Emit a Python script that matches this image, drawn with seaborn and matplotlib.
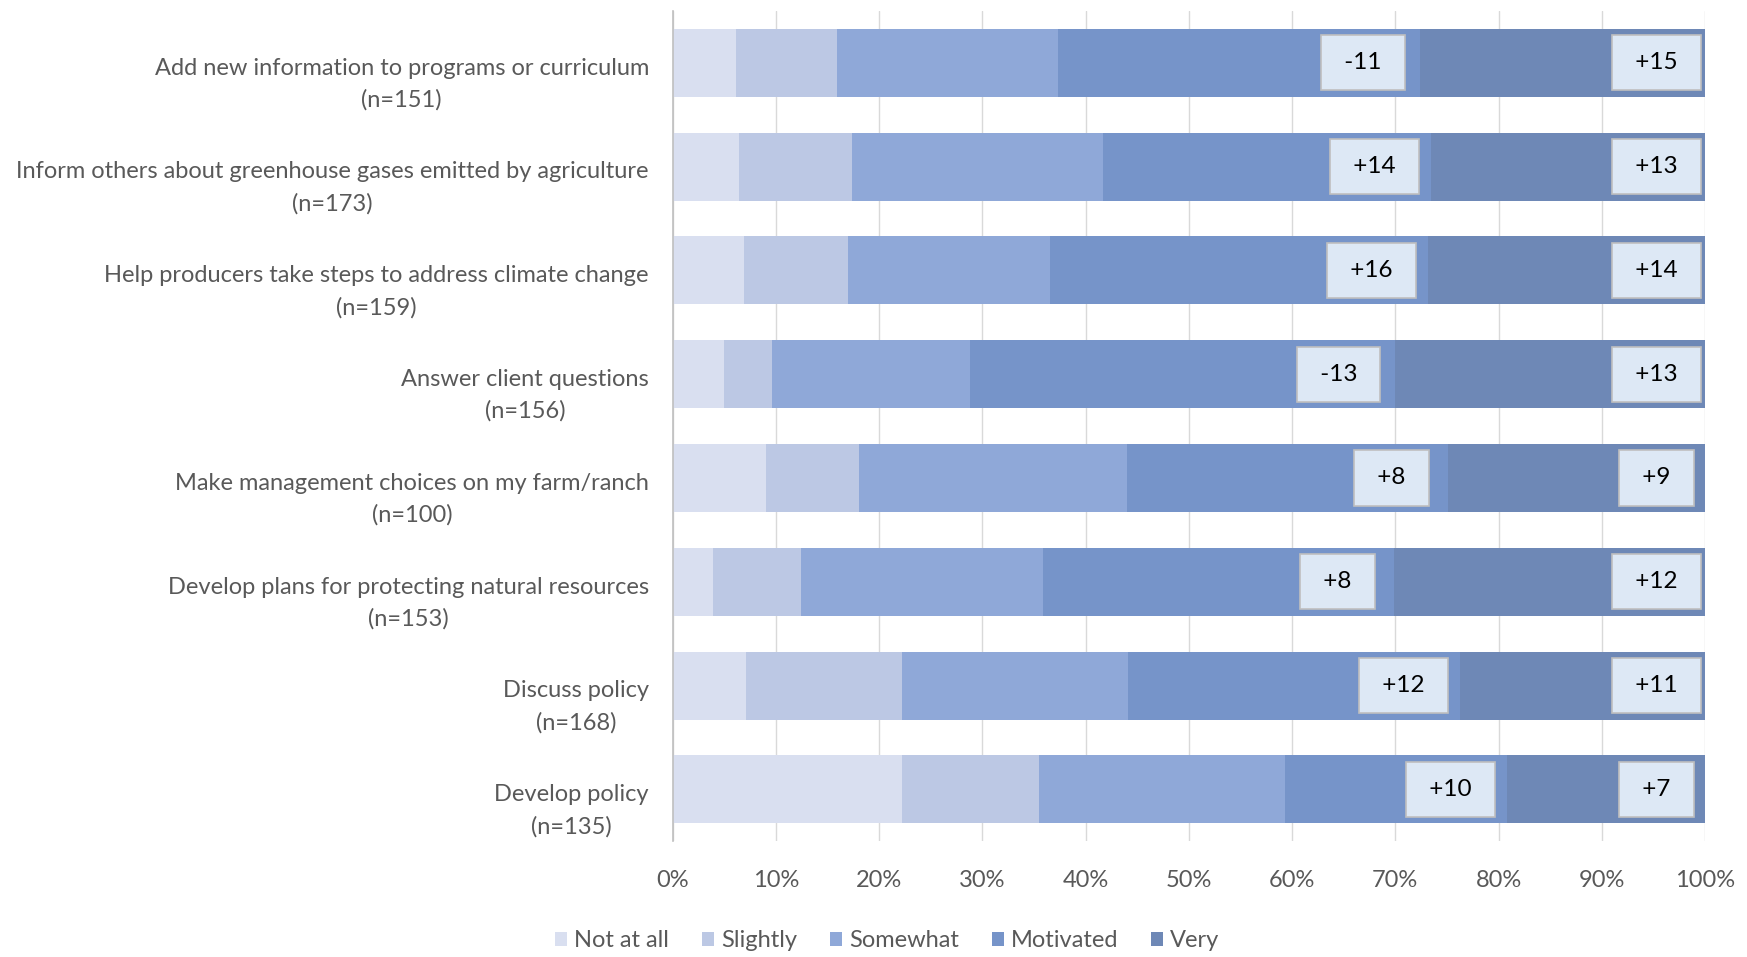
import numpy as np
import pandas as pd
import matplotlib
matplotlib.use("Agg")
import matplotlib.pyplot as plt
import matplotlib.transforms as mtransforms
import seaborn as sns

# categorias (de arriba a abajo)
acciones = ["Add new information to programs or curriculum",
            "Inform others about greenhouse gases emitted by agriculture",
            "Help producers take steps to address climate change",
            "Answer client questions",
            "Make management choices on my farm/ranch",
            "Develop plans for protecting natural resources",
            "Discuss policy",
            "Develop policy"]
n_resp = [151, 173, 159, 156, 100, 153, 168, 135]

niveles = ["Not at all", "Slightly", "Somewhat", "Motivated", "Very"]
not_at_all = [6.1, 6.4, 6.9, 5.0, 9.0, 3.9, 7.1, 22.2]
slightly = [9.8, 11.0, 10.1, 4.6, 9.1, 8.5, 15.1, 13.3]
somewhat = [21.4, 24.3, 19.6, 19.2, 25.9, 23.5, 21.9, 23.8]
motivated = [35.1, 31.8, 36.6, 41.2, 31.1, 34.0, 32.2, 21.5]
very = [27.6, 26.5, 26.8, 30.0, 24.9, 30.1, 23.7, 19.2]

# cambios mostrados en las cajas
cambio_motivated = ["-11", "+14", "+16", "-13", "+8", "+8", "+12", "+10"]
cambio_very = ["+15", "+13", "+14", "+13", "+9", "+12", "+11", "+7"]

colores = ["#d9dff0", "#bcc8e4", "#8fa8d8", "#7694c9", "#6e88b6"]

etiquetas = [f"{a}\n(n={n})" for a, n in zip(acciones, n_resp)]
valores = np.array([not_at_all, slightly, somewhat, motivated, very])
acumulado = np.cumsum(valores, axis=0)

df = pd.DataFrame(acumulado.T, columns=niveles)
df["etiqueta"] = etiquetas

sns.set_style("white")
plt.rcParams["font.family"] = ["Lato", "DejaVu Sans"]

fig = plt.figure(figsize=(17.47, 9.57), dpi=100)
ax = fig.add_axes([0.385, 0.121, 0.591, 0.8675])

# barras apiladas: se dibuja primero la acumulada mayor
for nivel, color in reversed(list(zip(niveles, colores))):
    sns.barplot(data=df, x=nivel, y="etiqueta", color=color, width=0.655,
                linewidth=0, saturation=1, label=nivel, ax=ax, zorder=2)

handles, labels = ax.get_legend_handles_labels()
if ax.get_legend() is not None:
    ax.get_legend().remove()

ax.set_xlim(0, 100)
ax.set_xticks(np.arange(0, 101, 10))
ax.set_xticklabels([f"{v}%" for v in range(0, 101, 10)])
ax.set_xlabel("")
ax.set_ylabel("")
ax.grid(axis="x", color="#d9d9d9", linewidth=1, zorder=0)
ax.set_axisbelow(True)
for s in ["top", "right", "bottom"]:
    ax.spines[s].set_visible(False)
ax.spines["left"].set_color("#bfbfbf")
ax.spines["left"].set_linewidth(1.2)
ax.tick_params(axis="x", length=0, pad=21, labelsize=17, labelcolor="#595959")
ax.tick_params(axis="y", length=0, pad=17, labelsize=17, labelcolor="#595959")

desplaz = mtransforms.ScaledTranslation(0, -0.14, fig.dpi_scale_trans)
for lbl in ax.get_yticklabels():
    lbl.set_multialignment("center")
    lbl.set_linespacing(1.6)
    lbl.set_transform(lbl.get_transform() + desplaz)

# cajas con el cambio
caja = dict(boxstyle="square,pad=0.7", facecolor="#dde8f5", edgecolor="#bfbfbf", linewidth=1.2)
for i in range(len(acciones)):
    ax.text(acumulado[3, i] - 5.5, i, " " + cambio_motivated[i] + " ", ha="center", va="center",
            fontsize=17.5, color="black", bbox=caja, zorder=5)
    ax.text(95.3, i, " " + cambio_very[i] + " ", ha="center", va="center",
            fontsize=17.5, color="black", bbox=caja, zorder=5)

orden = [labels.index(n) for n in niveles]
fig.legend([handles[k] for k in orden], [labels[k] for k in orden],
           loc="center", bbox_to_anchor=(0.508, 0.017), ncol=5, frameon=False,
           fontsize=17, handlelength=0.5, handleheight=0.5, handletextpad=0.3,
           columnspacing=1.4, labelcolor="#595959")

fig.savefig("out.png", dpi=100)
